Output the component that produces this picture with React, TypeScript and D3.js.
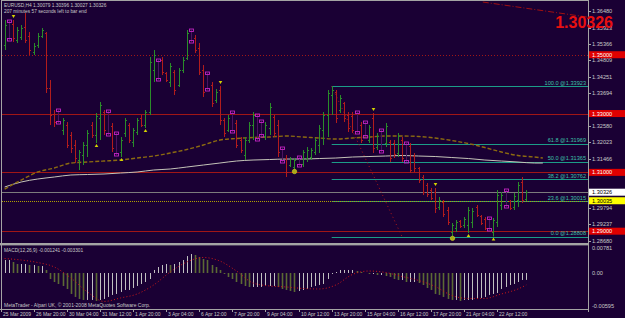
import React from "react";
import * as d3 from "d3";

// ---- chart data (EURUSD H4) ----
const symbolLine = "EURUSD,H4  1.30079 1.30396 1.30027 1.30326";
const timerLine = "207 minutes 57 seconds left to bar end";
const macdLine = "MACD(12,26,9) -0.001241 -0.003301";
const footerLine = "MetaTrader - Alpari UK, \u00a9 2001-2008 MetaQuotes Software Corp.";

const firstSlot = 1; // bar k sits in slot k + 1, slot 0 is behind the left border

const barOpen = [
  1.35330, 1.36146, 1.36044, 1.35500, 1.35602, 1.35942, 1.35636, 1.35092, 1.35330, 1.35636,
  1.35738, 1.33868, 1.32984, 1.33120, 1.32440, 1.32610, 1.32270, 1.31930, 1.31420, 1.31590,
  1.31930, 1.32610, 1.32270, 1.32848, 1.33052, 1.33086, 1.32576, 1.32338, 1.31692, 1.32338,
  1.32610, 1.32032, 1.32372, 1.32848, 1.32610, 1.33052, 1.34480, 1.34820, 1.34820, 1.34378,
  1.34072, 1.34412, 1.33970, 1.34480, 1.34888, 1.35840, 1.35568, 1.35228, 1.34480, 1.34378,
  1.33970, 1.33460, 1.33800, 1.32780, 1.32440, 1.33052, 1.32678, 1.32100, 1.31590, 1.32100,
  1.32610, 1.32950, 1.32746, 1.32236, 1.32508, 1.32882, 1.32610, 1.31828, 1.31488, 1.31250,
  1.31182, 1.31522, 1.31284, 1.31488, 1.31522, 1.31692, 1.31930, 1.32440, 1.32950, 1.33630,
  1.33732, 1.33120, 1.33358, 1.32950, 1.32916, 1.33052, 1.32610, 1.32712, 1.32100, 1.32848,
  1.31862, 1.32440, 1.31998, 1.32032, 1.31998, 1.31658, 1.32100, 1.31998, 1.31896, 1.31556,
  1.31148, 1.30842, 1.30570, 1.30400, 1.30332, 1.29822, 1.29992, 1.29720, 1.28972, 1.29108,
  1.29346, 1.29210, 1.29210, 1.29312, 1.29822, 1.29516, 1.29414, 1.29448, 1.28972, 1.29312,
  1.29890, 1.30400, 1.30026, 1.29822, 1.30060, 1.30672, 1.30079,
];
const barHigh = [
  1.36180, 1.36146, 1.36180, 1.35942, 1.36010, 1.36418, 1.35772, 1.35398, 1.35738, 1.35908,
  1.35772, 1.34140, 1.33120, 1.33120, 1.32848, 1.32712, 1.32372, 1.32100, 1.31760, 1.32032,
  1.32440, 1.32712, 1.33018, 1.33392, 1.33120, 1.33086, 1.32678, 1.32338, 1.32202, 1.32848,
  1.32678, 1.32508, 1.32848, 1.32950, 1.33120, 1.34922, 1.35160, 1.34820, 1.34922, 1.34412,
  1.34718, 1.34480, 1.34548, 1.34922, 1.35840, 1.35840, 1.35670, 1.35398, 1.34650, 1.34378,
  1.34072, 1.33834, 1.33936, 1.32848, 1.32950, 1.33052, 1.32780, 1.32202, 1.32202, 1.32712,
  1.33052, 1.32950, 1.32746, 1.32712, 1.33358, 1.32950, 1.32780, 1.31828, 1.31590, 1.31522,
  1.31488, 1.31522, 1.31760, 1.31862, 1.31828, 1.32168, 1.32610, 1.33052, 1.33800, 1.33923,
  1.33800, 1.33630, 1.33392, 1.33052, 1.33052, 1.33052, 1.32712, 1.32712, 1.32610, 1.33018,
  1.32338, 1.32440, 1.32678, 1.32100, 1.32100, 1.32338, 1.32202, 1.31998, 1.31998, 1.31658,
  1.31182, 1.30910, 1.30638, 1.30468, 1.30468, 1.30162, 1.30060, 1.29822, 1.29278, 1.29380,
  1.29380, 1.29482, 1.29822, 1.29788, 1.29890, 1.29550, 1.29482, 1.29448, 1.29448, 1.30400,
  1.30332, 1.30400, 1.30060, 1.30298, 1.30672, 1.30842, 1.30396,
];
const barLow = [
  1.35160, 1.35500, 1.35432, 1.35398, 1.35500, 1.35398, 1.34990, 1.34990, 1.35228, 1.35568,
  1.33698, 1.32610, 1.32542, 1.32678, 1.32270, 1.31828, 1.31658, 1.31318, 1.31080, 1.31250,
  1.31522, 1.32168, 1.31998, 1.32100, 1.32270, 1.32270, 1.31692, 1.31590, 1.31522, 1.32202,
  1.31998, 1.31862, 1.32270, 1.32542, 1.32508, 1.32950, 1.34072, 1.34140, 1.34310, 1.34072,
  1.33902, 1.33630, 1.33902, 1.34378, 1.34820, 1.35432, 1.35058, 1.34310, 1.33562, 1.33800,
  1.33222, 1.33358, 1.32610, 1.32202, 1.32372, 1.32372, 1.31828, 1.31658, 1.31420, 1.31998,
  1.32100, 1.32100, 1.32236, 1.32100, 1.32270, 1.32202, 1.31522, 1.31352, 1.30842, 1.31182,
  1.31080, 1.31216, 1.31182, 1.31352, 1.31420, 1.31590, 1.31658, 1.31930, 1.32202, 1.32950,
  1.32678, 1.33018, 1.32712, 1.32372, 1.32338, 1.32338, 1.31998, 1.32202, 1.31998, 1.31658,
  1.31760, 1.31692, 1.31862, 1.31352, 1.31488, 1.31522, 1.31352, 1.31352, 1.30978, 1.31012,
  1.30638, 1.30230, 1.30162, 1.30060, 1.29618, 1.29720, 1.29482, 1.29210, 1.28808, 1.28972,
  1.29108, 1.29108, 1.28938, 1.29108, 1.29482, 1.29210, 1.29040, 1.29040, 1.28820, 1.29142,
  1.29720, 1.29822, 1.29720, 1.29720, 1.29822, 1.29958, 1.30027,
];
const barClose = [
  1.36010, 1.35500, 1.35568, 1.35840, 1.35908, 1.35500, 1.35160, 1.35296, 1.35636, 1.35840,
  1.33868, 1.32950, 1.32712, 1.32678, 1.32780, 1.31930, 1.31828, 1.31488, 1.31692, 1.31930,
  1.32338, 1.32270, 1.32916, 1.33290, 1.32440, 1.32270, 1.31828, 1.31590, 1.32100, 1.32780,
  1.32100, 1.32440, 1.32780, 1.32610, 1.33052, 1.34752, 1.34990, 1.34140, 1.34412, 1.34140,
  1.34616, 1.33800, 1.34480, 1.34820, 1.35738, 1.35432, 1.35160, 1.34412, 1.33732, 1.33800,
  1.33358, 1.33732, 1.32780, 1.32338, 1.32848, 1.32372, 1.31930, 1.31760, 1.32100, 1.32610,
  1.32950, 1.32100, 1.32236, 1.32610, 1.33222, 1.32338, 1.31692, 1.31352, 1.31012, 1.31454,
  1.31420, 1.31216, 1.31692, 1.31760, 1.31760, 1.32100, 1.32508, 1.32950, 1.33698, 1.33800,
  1.32848, 1.33528, 1.32848, 1.32508, 1.32440, 1.32338, 1.32100, 1.32202, 1.32542, 1.31828,
  1.32236, 1.31692, 1.32576, 1.31488, 1.31624, 1.32236, 1.31488, 1.31352, 1.31080, 1.31148,
  1.30740, 1.30332, 1.30264, 1.30128, 1.29788, 1.30060, 1.29584, 1.29312, 1.29210, 1.29312,
  1.29176, 1.29414, 1.29720, 1.29686, 1.29550, 1.29278, 1.29108, 1.29040, 1.29380, 1.30230,
  1.30230, 1.29822, 1.29788, 1.30196, 1.30570, 1.30060, 1.30326,
];
// bars painted magenta by the template
const flaggedBars = [1, 13, 25, 27, 37, 45, 49, 55, 61, 62, 67, 71, 85, 87, 91, 97, 117, 121];

// yellow swing markers
const swingDown = [2, 52, 89, 104];
const swingUp = [22, 28, 34, 112, 118];
const swingDot = [70, 108];

// moving averages (sampled every 4 slots)
const maSlots = [1, 5, 9, 13, 17, 21, 25, 29, 33, 37, 41, 45, 49, 53, 57, 61, 65, 69, 73, 77, 81, 85, 89, 93, 97, 101, 105, 109, 113, 117, 121, 125, 129, 131];
const maSlow = [
  1.30434, 1.30740, 1.31012, 1.31148, 1.31318, 1.31352, 1.31386, 1.31420, 1.31488, 1.31556,
  1.31658, 1.31777, 1.31930, 1.32100, 1.32151, 1.32185, 1.32202, 1.32236, 1.32202, 1.32168,
  1.32134, 1.32168, 1.32202, 1.32236, 1.32236, 1.32219, 1.32168, 1.32083, 1.31981, 1.31845,
  1.31692, 1.31573, 1.31522, 1.31488,
];
const maLong = [
  1.30502, 1.30672, 1.30774, 1.30842, 1.30910, 1.30927, 1.30944, 1.30978, 1.31012, 1.31080,
  1.31114, 1.31182, 1.31250, 1.31318, 1.31386, 1.31420, 1.31437, 1.31454, 1.31454, 1.31471,
  1.31488, 1.31522, 1.31539, 1.31556, 1.31573, 1.31556, 1.31539, 1.31505, 1.31471, 1.31420,
  1.31386, 1.31352, 1.31318, 1.31318,
];

// horizontal levels
const roundLevels = [1.35, 1.33, 1.31, 1.29];
const bidPrice = 1.30326;
const alertPrice = 1.30035;

// fibonacci retracement
const fibHigh = { slot: 80, price: 1.33923 };
const fibLow = { slot: 97, price: 1.28808 };
const fibLevels = [0, 23.6, 38.2, 50, 61.8, 100];

// falling trendline at the top right
const trendA = { slot: 116.5, price: 1.36792 };
const trendB = { slot: 146, price: 1.36194 };

// price axis
const priceTicks = [
  1.36480, 1.35923, 1.35366, 1.34809, 1.34251, 1.33694, 1.33137, 1.32580,
  1.32023, 1.31466, 1.30909, 1.30351, 1.29794, 1.29237, 1.28680,
];

// MACD(12,26,9)
const macdHist = [
  0.00406, 0.00406, 0.00343, 0.00281, 0.00281, 0.00281, 0.00250, 0.00250, 0.00218, 0.00218,
  0.00094, -0.00108, -0.00162, -0.00198, -0.00234, -0.00288, -0.00378, -0.00432, -0.00468, -0.00486,
  -0.00486, -0.00486, -0.00504, -0.00486, -0.00468, -0.00432, -0.00396, -0.00378, -0.00342, -0.00306,
  -0.00306, -0.00270, -0.00234, -0.00198, -0.00162, -0.00108, 0.00094, 0.00187, 0.00250, 0.00281,
  0.00250, 0.00281, 0.00343, 0.00406, 0.00530, 0.00593, 0.00562, 0.00499, 0.00437,
  0.00406, 0.00250, 0.00187, 0.00094, -0.00018, -0.00072, -0.00108, -0.00162, -0.00198, -0.00234,
  -0.00252, -0.00252, -0.00252, -0.00252, -0.00234, -0.00234, -0.00234, -0.00252, -0.00288, -0.00306,
  -0.00324, -0.00342, -0.00324, -0.00306, -0.00288, -0.00252, -0.00234, -0.00216, -0.00198, -0.00108,
  -0.00018, 0.00031, 0.00094, 0.00094, 0.00094, 0.00094, 0.00062, 0.00031, 0.00000, -0.00018,
  -0.00018, -0.00036, -0.00036, -0.00054, -0.00072, -0.00108, -0.00126, -0.00126, -0.00162,
  -0.00162, -0.00162, -0.00180, -0.00216, -0.00270, -0.00306, -0.00378, -0.00396, -0.00432, -0.00468,
  -0.00486, -0.00486, -0.00504, -0.00486, -0.00486, -0.00486, -0.00468, -0.00450, -0.00432, -0.00396,
  -0.00378, -0.00360, -0.00288, -0.00252, -0.00216, -0.00198, -0.00162, -0.00126, -0.00124,
];
const signalSlots = [1, 5, 9, 13, 17, 21, 25, 29, 33, 37, 41, 45, 49, 53, 57, 61, 65, 69, 73, 77, 81, 85, 89, 93, 97, 101, 105, 109, 113, 117, 121, 125, 127];
const macdSignal = [
  0.00452, 0.00406, 0.00328, 0.00187, -0.00090, -0.00342, -0.00513, -0.00450, -0.00378, -0.00216,
  0.00031, 0.00343, 0.00484, 0.00374, 0.00062, -0.00180, -0.00234, -0.00252, -0.00279, -0.00288,
  -0.00216, -0.00027, 0.00062, 0.00016, -0.00063, -0.00135, -0.00243, -0.00405, -0.00459, -0.00459,
  -0.00378, -0.00288, -0.00216,
];
const macdTicks = [0.00781, 0, -0.00595];

// time axis
const timeSlots = [0, 8, 16, 24, 32, 40, 48, 56, 64, 72, 80, 88, 96, 104, 112, 120];
const timeLabels = [
  "25 Mar 2009", "26 Mar 20:00", "30 Mar 04:00", "31 Mar 12:00", "1 Apr 20:00", "3 Apr 04:00",
  "6 Apr 12:00", "7 Apr 20:00", "9 Apr 04:00", "10 Apr 12:00", "13 Apr 20:00", "15 Apr 04:00",
  "16 Apr 12:00", "17 Apr 20:00", "21 Apr 04:00", "22 Apr 12:00",
];

// ---- look ----
const BG = "#1a0034";
const FRAME = "#a4a4a4";
const TXT = "#c8c8c8";
const UP = "#2a8c2a";
const DOWN = "#b21c1c";
const MAG = "#c424c4";
const YEL = "#d4d400";
const TEAL = "#1c9c88";
const LEVEL = "#a01616";
const FONT = "Arial, 'Liberation Sans', sans-serif";
const FS = 5;

const left = 2, right = 588, mainTop = 1, mainBottom = 243, subTop = 246, subBottom = 309;
const labelX = 592;

const xs = d3.scaleLinear().domain([0, 1]).range([0.5, 4.64]);
const ys = d3.scaleLinear().domain([1.2868, 1.3648]).range([240.6, 11.2]);
const ms = d3.scaleLinear().domain([-0.00595, 0, 0.00781]).range([306, 273, 248]);

const px = (v: number) => Math.round(v) + 0.5;

export default function App() {
  const flagged = new Set(flaggedBars);
  const barX = (k: number) => px(xs(k + firstSlot));

  const maLine = d3
    .line<number>()
    .x((_, i) => xs(maSlots[i]))
    .y((d) => ys(d))
    .curve(d3.curveMonotoneX);

  const sigLine = d3
    .line<number>()
    .x((_, i) => xs(signalSlots[i]))
    .y((d) => ms(d))
    .curve(d3.curveMonotoneX);

  const fibX0 = xs(fibHigh.slot);
  const fibRange = fibHigh.price - fibLow.price;

  const boxes = [
    ...roundLevels.map((v) => ({ v, bg: "#e00000", fg: "#ffffff" })),
    { v: bidPrice, bg: "#ffffff", fg: "#000000" },
    { v: alertPrice, bg: "#ffff00", fg: "#000000" },
  ];
  const boxed = boxes.map((b) => ys(b.v));

  return (
    <svg
      width={625}
      height={318}
      style={{ position: "absolute", left: 0, top: 0, display: "block" }}
      fontFamily={FONT}
    >
      <defs>
        <clipPath id="mainClip">
          <rect x={left} y={mainTop} width={right - left} height={mainBottom - mainTop} />
        </clipPath>
        <clipPath id="subClip">
          <rect x={left} y={subTop} width={right - left} height={subBottom - subTop} />
        </clipPath>
      </defs>
      <rect width={625} height={318} fill={BG} />

      {/* main window */}
      <g clipPath="url(#mainClip)">
        {roundLevels.map((v, i) => (
          <line
            key={"lv" + v}
            x1={left}
            x2={right}
            y1={px(ys(v))}
            y2={px(ys(v))}
            stroke={LEVEL}
            strokeDasharray={i === 0 ? "1,2" : undefined}
          />
        ))}
        <line x1={left} x2={right} y1={px(ys(bidPrice))} y2={px(ys(bidPrice))} stroke="#7c7c7c" />

        {fibLevels.map((lv) => {
          const y = px(ys(fibLow.price + (fibRange * lv) / 100));
          return <line key={"fb" + lv} x1={fibX0} x2={right} y1={y} y2={y} stroke={TEAL} />;
        })}
        <line
          x1={left}
          x2={right}
          y1={px(ys(alertPrice))}
          y2={px(ys(alertPrice))}
          stroke="#b0a000"
          strokeDasharray="1,1"
        />
        <line
          x1={xs(fibHigh.slot)}
          y1={ys(fibHigh.price)}
          x2={xs(fibLow.slot)}
          y2={ys(fibLow.price)}
          stroke="#b01818"
          strokeDasharray="1,3"
        />
        <line
          x1={xs(trendA.slot)}
          y1={ys(trendA.price)}
          x2={xs(trendB.slot)}
          y2={ys(trendB.price)}
          stroke="#a01010"
          strokeDasharray="6,2,1,2"
        />

        <path d={maLine(maLong) || ""} fill="none" stroke="#c4c4b8" strokeWidth={1} />
        <path
          d={maLine(maSlow) || ""}
          fill="none"
          stroke="#8c6a10"
          strokeWidth={1.4}
          strokeDasharray="4,2"
        />

        {barOpen.map((o, k) => {
          const x = barX(k);
          const hi = ys(barHigh[k]);
          const lo = ys(barLow[k]);
          if (flagged.has(k)) {
            return (
              <g key={"b" + k}>
                <line x1={x} x2={x} y1={hi} y2={lo} stroke="#4a1460" />
                <rect x={x - 2} y={hi - 1} width={4} height={2.5} fill="none" stroke={MAG} strokeWidth={0.9} />
                <rect x={x - 2} y={lo - 1.5} width={4} height={2.5} fill="none" stroke={MAG} strokeWidth={0.9} />
              </g>
            );
          }
          const c = barClose[k];
          const col = c >= o ? UP : DOWN;
          return (
            <g key={"b" + k} stroke={col}>
              <line x1={x} x2={x} y1={hi} y2={lo} />
              <line x1={x - 1.5} x2={x} y1={px(ys(o))} y2={px(ys(o))} />
              <line x1={x} x2={x + 1.5} y1={px(ys(c))} y2={px(ys(c))} />
            </g>
          );
        })}

        {swingDown.map((k) => {
          const x = barX(k);
          const y = ys(barHigh[k]) - 2;
          return <path key={"sd" + k} d={`M${x - 1.8},${y - 3}L${x + 1.8},${y - 3}L${x},${y}Z`} fill={YEL} />;
        })}
        {swingUp.map((k) => {
          const x = barX(k);
          const y = ys(barLow[k]) + 1;
          return <path key={"su" + k} d={`M${x - 1.8},${y + 3}L${x + 1.8},${y + 3}L${x},${y}Z`} fill={YEL} />;
        })}
        {swingDot.map((k) => (
          <circle key={"sc" + k} cx={barX(k)} cy={ys(barLow[k]) + 1.5} r={2.2} fill="#a8a818" stroke="#d8d820" strokeWidth={0.6} />
        ))}

        {fibLevels.map((lv) => {
          const p = fibLow.price + (fibRange * lv) / 100;
          return (
            <text key={"ft" + lv} x={right - 2} y={ys(p) - 1.5} fontSize={5.6} fill="#3cc0a8" textAnchor="end">
              {`${lv.toFixed(1)} @${p.toFixed(5)}`}
            </text>
          );
        })}

        <text x={4} y={7} fontSize={4.8} fill={TXT}>{symbolLine}</text>
        <text x={4} y={13} fontSize={4.8} fill={TXT}>{timerLine}</text>
      </g>

      {/* MACD window */}
      <g clipPath="url(#subClip)">
        {macdHist.map((v, k) => {
          const prev = k > 0 ? macdHist[k - 1] : v;
          const falling = v < prev;
          const x = barX(k);
          const y0 = ms(0);
          const y1 = ms(v);
          return (
            <line
              key={"h" + k}
              x1={x}
              x2={x}
              y1={Math.min(y0, y1)}
              y2={Math.max(y0, y1)}
              stroke={falling ? "#5c6a34" : "#c0c0c0"}
              strokeWidth={falling ? 1.6 : 1}
            />
          );
        })}
        <path d={sigLine(macdSignal) || ""} fill="none" stroke="#d01818" strokeDasharray="1,2.2" />
        <text x={4} y={251.5} fontSize={4.8} fill={TXT}>{macdLine}</text>
        <text x={4} y={307} fontSize={FS} fill={TXT}>{footerLine}</text>
      </g>

      {/* frame */}
      <line x1={left - 0.5} x2={left - 0.5} y1={0} y2={subBottom} stroke={FRAME} />
      <line x1={left} x2={right} y1={0.5} y2={0.5} stroke={FRAME} />
      <line x1={right + 0.5} x2={right + 0.5} y1={0} y2={subBottom + 3} stroke={FRAME} />
      <rect x={0} y={mainBottom} width={right + 1} height={2.4} fill={FRAME} />
      <line x1={0} x2={right + 1} y1={subBottom + 0.5} y2={subBottom + 0.5} stroke={FRAME} />

      {/* price axis, boxes drawn over the labels they cover */}
      {priceTicks
        .filter((v) => boxed.every((by) => Math.abs(by - ys(v)) > 4.5))
        .map((v) => (
          <g key={"pt" + v}>
            <line x1={right + 1} x2={right + 3} y1={px(ys(v))} y2={px(ys(v))} stroke={FRAME} />
            <text x={labelX} y={ys(v) + 2} fontSize={5.6} fill={TXT}>{v.toFixed(5)}</text>
          </g>
        ))}
      {boxes.map((b) => {
        const y = ys(b.v);
        return (
          <g key={"bx" + b.v}>
            <rect x={right + 1} y={y - 3.5} width={625 - right} height={7} fill={b.bg} />
            <text x={labelX} y={y + 2} fontSize={5.6} fill={b.fg}>{b.v.toFixed(5)}</text>
          </g>
        );
      })}
      {macdTicks.map((v) => (
        <text key={"mt" + v} x={labelX} y={ms(v) + 2} fontSize={5.6} fill={TXT}>
          {v === 0 ? "0.00" : v.toFixed(5)}
        </text>
      ))}

      {/* big last price, drawn over the axis like the terminal does */}
      <text x={613} y={28} fontSize={16} fontWeight="bold" fill="#e81010" textAnchor="end">
        {bidPrice.toFixed(5)}
      </text>

      {/* time axis */}
      {timeSlots.map((s, i) => {
        const x = px(xs(s));
        return (
          <g key={"tt" + s}>
            <line x1={x} x2={x} y1={subBottom} y2={subBottom + 3} stroke={FRAME} />
            <text x={x + 1.5} y={315.5} fontSize={FS} fill={TXT}>{timeLabels[i]}</text>
          </g>
        );
      })}
    </svg>
  );
}
